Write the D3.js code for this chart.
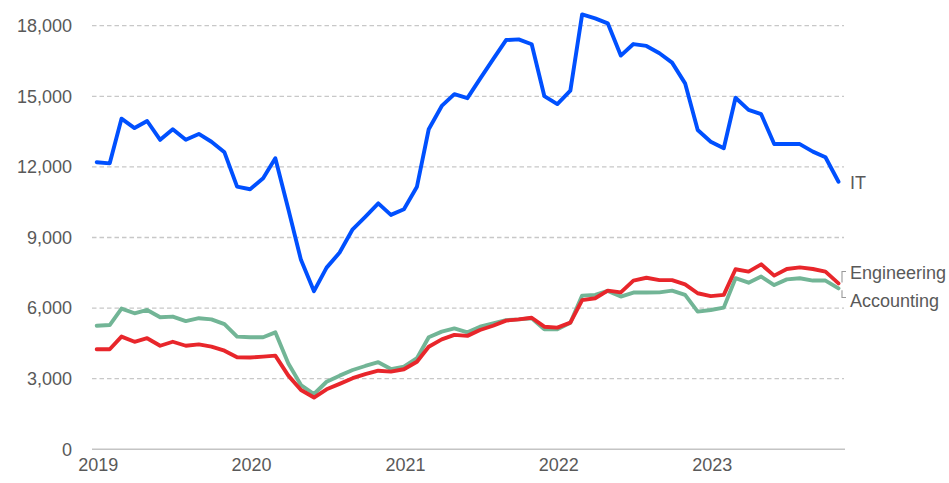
<!DOCTYPE html>
<html><head><meta charset="utf-8">
<script src="https://cdn.jsdelivr.net/npm/d3@7/dist/d3.min.js"></script>
<style>
html,body{margin:0;padding:0;background:#fff;}
text{font-family:"Liberation Sans",Arial,sans-serif;}
</style></head>
<body><svg id="chart" width="949" height="483"></svg>
<script>
const startYear = 2019, startMonth = 0, monthCount = 59;
const yTicks = [0, 3000, 6000, 9000, 12000, 15000, 18000];
const yearTicks = [2019, 2020, 2021, 2022, 2023];
const seriesNames = ["IT", "Engineering", "Accounting"];
const itValues = [12200,12150,14050,13650,13950,13150,13600,13150,13400,13070,12620,11160,11050,11520,12370,
  10200,8050,6720,7720,8360,9350,9880,10450,9960,10200,11160,13600,14590,15090,14920,15740,16570,17390,17420,17210,15010,
  14670,15240,18480,18310,18100,16730,17220,17140,16830,16430,15550,13570,13070,12790,14940,14420,14240,12970,12970,12970,12650,12410,11370];
const engineeringValues = [4250,4250,4790,4570,4720,4400,4570,4400,4460,4360,4190,3910,3900,3940,3980,
  3130,2520,2200,2550,2780,3020,3190,3340,3300,3400,3720,4360,4670,4860,4820,5070,5250,5470,5520,5590,5210,
  5170,5380,6340,6420,6740,6670,7170,7290,7190,7190,7010,6630,6510,6560,7650,7550,7860,7380,7660,7730,7660,7550,7050];
const accountingValues = [5250,5280,5980,5780,5920,5610,5640,5450,5570,5520,5320,4790,4760,4760,4970,
  3650,2730,2350,2870,3130,3370,3540,3700,3410,3510,3870,4760,5000,5140,4970,5210,5350,5490,5520,5570,5100,
  5100,5380,6530,6560,6730,6490,6660,6660,6670,6740,6560,5850,5920,6020,7270,7080,7340,6980,7220,7270,7170,7170,6840];
const colors = {IT:"#0050ff", Engineering:"#e8262b", Accounting:"#72b596"};

const dates = d3.range(monthCount).map(i => new Date(startYear, startMonth + i, 1));
const svg = d3.select("#chart");
const x = d3.scaleTime().domain([new Date(2019,0,1), new Date(2023,10,1)]).range([96.7, 838.5]);
const y = d3.scaleLinear().domain([0, 18000]).range([449.3, 25.7]);
const textColor = "#595959";

// gridlines
svg.append("g").selectAll("line").data(yTicks.filter(d => d > 0)).join("line")
  .attr("x1", 92).attr("x2", 844)
  .attr("y1", d => y(d)).attr("y2", d => y(d))
  .attr("stroke", "#c8c8c8").attr("stroke-width", 1.3).attr("stroke-dasharray", "4.5,3");

// y axis labels
const yAxis = d3.axisLeft(y).tickValues(yTicks).tickFormat(d3.format(",")).tickSize(0).tickPadding(0);
const gy = svg.append("g").attr("transform", "translate(72,0)").call(yAxis);
gy.select(".domain").remove();
gy.selectAll("text").attr("fill", textColor).style("font-size", "18px").attr("font-family", "Liberation Sans, Arial, sans-serif");

// x axis
const xAxis = d3.axisBottom(x).tickValues(yearTicks.map(yr => new Date(yr,0,1))).tickFormat(d3.timeFormat("%Y")).tickSize(0).tickPadding(0);
const gx = svg.append("g").attr("transform", "translate(0,449.3)").call(xAxis);
gx.select(".domain").remove();
gx.selectAll("text").attr("fill", textColor).style("font-size", "18px").attr("font-family", "Liberation Sans, Arial, sans-serif").attr("dy", "1.2em").attr("dx", "1");
svg.append("line").attr("x1", 92).attr("x2", 845).attr("y1", y(0)).attr("y2", y(0))
  .attr("stroke", "#c4c4c4").attr("stroke-width", 1.6);

const line = d3.line().x((d,i) => x(dates[i])).y(d => y(d));
const data = {IT: itValues, Engineering: engineeringValues, Accounting: accountingValues};
["Accounting","Engineering","IT"].forEach(name => {
  svg.append("path").datum(data[name]).attr("d", line)
    .attr("fill","none").attr("stroke", colors[name]).attr("stroke-width", 3.9)
    .attr("stroke-linejoin","round").attr("stroke-linecap","round");
});

// labels
svg.append("text").attr("x", 850).attr("y", y(itValues[monthCount-1]) + 1).attr("dy","0.35em")
  .attr("fill", textColor).style("font-size","18px").text("IT");
const engY = 272.5, accY = 300.5;
svg.append("path").attr("d", `M846,${engY-1}H842V${y(engineeringValues[monthCount-1]) - 1}`)
  .attr("fill","none").attr("stroke","#999").attr("stroke-width",1.1);
svg.append("path").attr("d", `M846,${accY-3}H842V${y(accountingValues[monthCount-1]) + 2}`)
  .attr("fill","none").attr("stroke","#999").attr("stroke-width",1.1);
svg.append("text").attr("x", 850).attr("y", engY).attr("dy","0.35em").attr("fill", textColor).style("font-size","18px").text("Engineering");
svg.append("text").attr("x", 850).attr("y", accY).attr("dy","0.35em").attr("fill", textColor).style("font-size","18px").text("Accounting");
</script></body></html>
